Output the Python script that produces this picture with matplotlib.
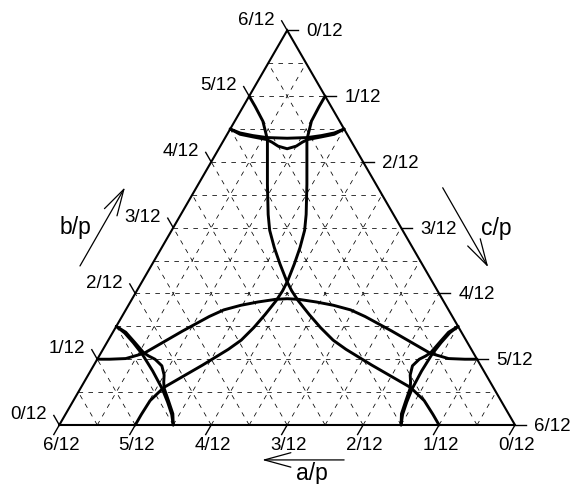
import numpy as np
import matplotlib.pyplot as plt

plt.rcParams['font.family'] = ['Liberation Sans', 'DejaVu Sans']

# everything in twelfths of p, a + b + c = 6
tick_values = [0, 1, 2, 3, 4, 5, 6]
tick_labels = [f'{n}/12' for n in tick_values]
grid_levels = [k / 2 for k in range(1, 12)]

# large curves, (a, b, c) points
arc_bottom = [(5.00, 1.00, 0.00), (4.84, 1.00, 0.16), (4.62, 1.01, 0.37), (4.34, 1.09, 0.57),
              (4.00, 1.26, 0.74), (3.66, 1.43, 0.91), (3.20, 1.65, 1.15), (2.96, 1.75, 1.29),
              (2.70, 1.82, 1.48), (2.45, 1.87, 1.68), (2.20, 1.91, 1.89), (2.04, 1.92, 2.04),
              (1.89, 1.91, 2.20), (1.68, 1.87, 2.45), (1.48, 1.82, 2.70), (1.29, 1.75, 2.96),
              (1.15, 1.65, 3.20), (0.91, 1.43, 3.66), (0.74, 1.26, 4.00), (0.57, 1.09, 4.34),
              (0.37, 1.01, 4.62), (0.16, 1.00, 4.84), (0.00, 1.00, 5.00)]
arc_left = [(1.00, 0.00, 5.00), (1.00, 0.16, 4.84), (1.01, 0.37, 4.62), (1.09, 0.57, 4.34),
            (1.26, 0.74, 4.00), (1.43, 0.91, 3.66), (1.65, 1.15, 3.20), (1.75, 1.29, 2.96),
            (1.82, 1.48, 2.70), (1.87, 1.68, 2.45), (1.91, 1.89, 2.20), (1.92, 2.04, 2.04),
            (1.91, 2.20, 1.89), (1.87, 2.45, 1.68), (1.82, 2.70, 1.48), (1.75, 2.96, 1.29),
            (1.65, 3.20, 1.15), (1.43, 3.66, 0.91), (1.26, 4.00, 0.74), (1.09, 4.34, 0.57),
            (1.01, 4.62, 0.37), (1.00, 4.84, 0.16), (1.00, 5.00, 0.00)]
arc_right = [(5.00, 0.00, 1.00), (4.84, 0.16, 1.00), (4.62, 0.37, 1.01), (4.34, 0.57, 1.09),
             (4.00, 0.74, 1.26), (3.66, 0.91, 1.43), (3.20, 1.15, 1.65), (2.96, 1.29, 1.75),
             (2.70, 1.48, 1.82), (2.45, 1.68, 1.87), (2.20, 1.89, 1.91), (2.04, 2.04, 1.92),
             (1.89, 2.20, 1.91), (1.68, 2.45, 1.87), (1.48, 2.70, 1.82), (1.29, 2.96, 1.75),
             (1.15, 3.20, 1.65), (0.91, 3.66, 1.43), (0.74, 4.00, 1.26), (0.57, 4.34, 1.09),
             (0.37, 4.62, 1.01), (0.16, 4.84, 1.00), (0.00, 5.00, 1.00)]

# small corner curves, two per corner
top_flat = [(1.50, 4.50, 0.00), (1.40, 4.44, 0.16), (1.25, 4.40, 0.35), (1.08, 4.37, 0.55),
            (0.82, 4.36, 0.82), (0.55, 4.37, 1.08), (0.35, 4.40, 1.25), (0.16, 4.44, 1.40),
            (0.00, 4.50, 1.50)]
top_dip = [(1.50, 4.50, 0.00), (1.41, 4.42, 0.17), (1.26, 4.38, 0.36), (1.10, 4.34, 0.56),
           (1.05, 4.30, 0.65), (1.00, 4.24, 0.76), (0.95, 4.22, 0.83), (0.90, 4.20, 0.90),
           (0.83, 4.22, 0.95), (0.76, 4.24, 1.00), (0.65, 4.30, 1.05), (0.56, 4.34, 1.10),
           (0.36, 4.38, 1.26), (0.17, 4.42, 1.41), (0.00, 4.50, 1.50)]
left_flat = [(4.50, 0.00, 1.50), (4.44, 0.16, 1.40), (4.40, 0.35, 1.25), (4.37, 0.55, 1.08),
             (4.36, 0.82, 0.82), (4.37, 1.08, 0.55), (4.40, 1.25, 0.35), (4.44, 1.40, 0.16),
             (4.50, 1.50, 0.00)]
left_dip = [(4.50, 0.00, 1.50), (4.42, 0.17, 1.41), (4.38, 0.36, 1.26), (4.34, 0.56, 1.10),
            (4.30, 0.65, 1.05), (4.24, 0.76, 1.00), (4.22, 0.83, 0.95), (4.20, 0.90, 0.90),
            (4.22, 0.95, 0.83), (4.24, 1.00, 0.76), (4.30, 1.05, 0.65), (4.34, 1.10, 0.56),
            (4.38, 1.26, 0.36), (4.42, 1.41, 0.17), (4.50, 1.50, 0.00)]
right_flat = [(0.00, 1.50, 4.50), (0.16, 1.40, 4.44), (0.35, 1.25, 4.40), (0.55, 1.08, 4.37),
              (0.82, 0.82, 4.36), (1.08, 0.55, 4.37), (1.25, 0.35, 4.40), (1.40, 0.16, 4.44),
              (1.50, 0.00, 4.50)]
right_dip = [(0.00, 1.50, 4.50), (0.17, 1.41, 4.42), (0.36, 1.26, 4.38), (0.56, 1.10, 4.34),
             (0.65, 1.05, 4.30), (0.76, 1.00, 4.24), (0.83, 0.95, 4.22), (0.90, 0.90, 4.20),
             (0.95, 0.83, 4.22), (1.00, 0.76, 4.24), (1.05, 0.65, 4.30), (1.10, 0.56, 4.34),
             (1.26, 0.36, 4.38), (1.41, 0.17, 4.42), (1.50, 0.00, 4.50)]

S3 = np.sqrt(3) / 2


def tern(a, b, c):
    a, b, c = np.asarray(a, float), np.asarray(b, float), np.asarray(c, float)
    return c + b / 2, b * S3


def draw(ax, pts, **kw):
    a, b, c = zip(*pts)
    x, y = tern(a, b, c)
    ax.plot(x, y, **kw)


fig = plt.figure(figsize=(5.75, 4.84), dpi=100)
ax = fig.add_axes([0, 0, 1, 1])
ax.set_xlim(-0.781, 6.790)
ax.set_ylim(-0.777, 5.596)
ax.axis('off')

# dashed grid every 1/24
grid_kw = dict(color='k', lw=0.55, ls=(0, (6, 7)))
for v in grid_levels:
    draw(ax, [(6 - v, v, 0), (0, v, 6 - v)], **grid_kw)
    draw(ax, [(v, 0, 6 - v), (v, 6 - v, 0)], **grid_kw)
    draw(ax, [(6 - v, 0, v), (0, 6 - v, v)], **grid_kw)

# frame
draw(ax, [(6, 0, 0), (0, 0, 6), (0, 6, 0), (6, 0, 0)], color='k', lw=1.5,
     solid_joinstyle='miter')

curve_kw = dict(color='k', lw=2.1, solid_capstyle='round', solid_joinstyle='round')
for pts in [arc_bottom, arc_left, arc_right, top_flat, top_dip,
            left_flat, left_dip, right_flat, right_dip]:
    draw(ax, pts, **curve_kw)

# ticks and tick labels
L = 0.145
tick_kw = dict(color='k', lw=1.0)
fs = 13.5
for n, lab in zip(tick_values, tick_labels):
    # left side: b/p
    x0, y0 = tern(6 - n, n, 0)
    x1, y1 = x0 - 0.5 * L, y0 + S3 * L
    ax.plot([x0, x1], [y0, y1], **tick_kw)
    ax.text(x1 - 0.09, y1 + 0.01, lab, ha='right', va='center', fontsize=fs)
    # right side: c/p
    x0, y0 = tern(0, 6 - n, n)
    x1 = x0 + L
    ax.plot([x0, x1], [y0, y0], **tick_kw)
    ax.text(x1 + 0.11, y0 - 0.02, lab, ha='left', va='center', fontsize=fs)
    # bottom: a/p
    x0, y0 = tern(n, 0, 6 - n)
    x1, y1 = x0 - 0.5 * L, y0 - S3 * L
    ax.plot([x0, x1], [y0, y1], **tick_kw)
    ax.text(x0 + 0.02, -0.16, lab, ha='center', va='top', fontsize=fs)

# axis arrows
arrow_kw = dict(arrowstyle='->,head_length=0.95,head_width=0.26', lw=0.9,
                color='k', shrinkA=0, shrinkB=0, mutation_scale=20)
ax.annotate('', xy=(0.865, 3.13), xytext=(0.272, 2.094), arrowprops=arrow_kw)
ax.annotate('', xy=(5.648, 2.076), xytext=(5.048, 3.124), arrowprops=arrow_kw)
ax.annotate('', xy=(2.67, -0.46), xytext=(3.75, -0.46), arrowprops=arrow_kw)
ax.text(0.207, 2.60, 'b/p', ha='center', va='center', fontsize=16.5)
ax.text(5.759, 2.59, 'c/p', ha='center', va='center', fontsize=16.5)
ax.text(3.33, -0.64, 'a/p', ha='center', va='center', fontsize=16.5)

fig.savefig('out.png', dpi=100)
